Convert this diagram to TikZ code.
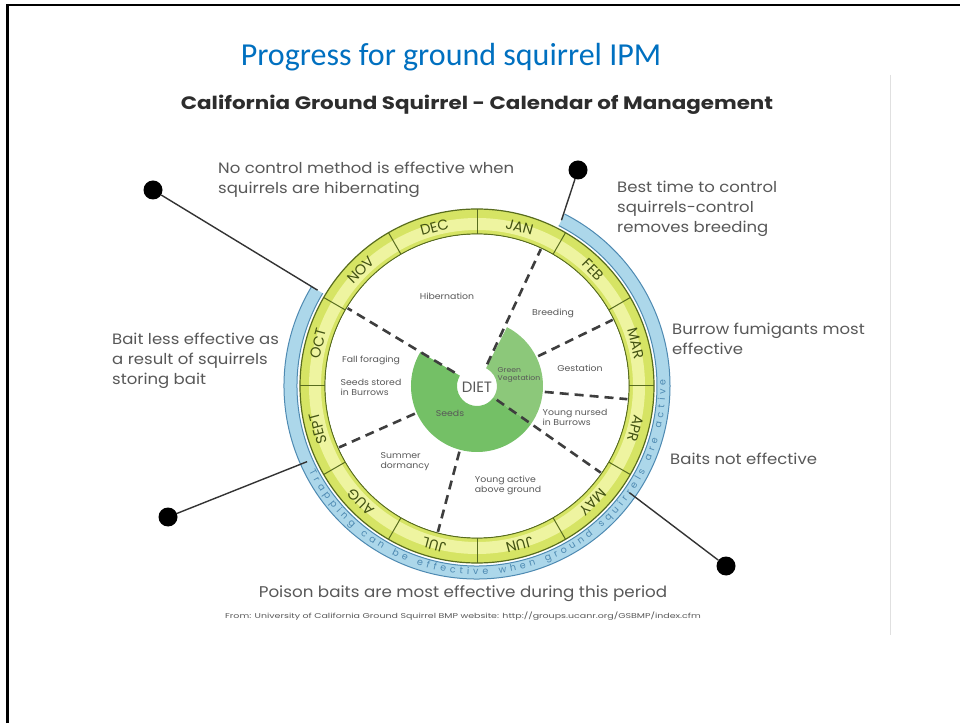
\documentclass[tikz,border=0pt]{standalone}
\usepackage{fontspec}
\setmainfont{Poppins}
\newfontfamily\slidefont{Carlito}
\usepackage{xcolor}
\usepackage{tikz}
\usetikzlibrary{positioning, decorations.text}

\definecolor{slideblue}{RGB}{0,112,192}
\definecolor{notegray}{RGB}{88,88,88}
\definecolor{headgray}{RGB}{45,45,45}
\definecolor{ringyellow}{RGB}{214,228,100}
\definecolor{ringlight}{RGB}{238,244,160}
\definecolor{ringline}{RGB}{88,108,30}
\definecolor{monthtext}{RGB}{66,82,18}
\definecolor{bandblue}{RGB}{172,215,234}
\definecolor{bandline}{RGB}{78,138,178}
\definecolor{seedgreen}{RGB}{116,192,102}
\definecolor{leafgreen}{RGB}{140,200,122}
\definecolor{dashgray}{RGB}{62,62,62}

\begin{document}
\begin{tikzpicture}[x=1pt, y=1pt]
\tikzstyle{note} = [text=notegray, font=\fontsize{15}{20}\selectfont, align=left, anchor=north west, inner sep=0pt, xscale=1.1]
\tikzstyle{phase} = [text=notegray, font=\fontsize{8.5}{10}\selectfont, align=left, inner sep=0pt, xscale=1.1]
\tikzstyle{month} = [text=monthtext, font=\fontsize{14.5}{14.5}\selectfont, inner sep=0pt]
\tikzstyle{pin} = [circle, fill=black, minimum size=19pt, inner sep=0pt]
\tikzstyle{leader} = [line width=1.4pt, draw=black!80]
\tikzstyle{divide} = [draw=dashgray, line width=2.6pt, dash pattern=on 9pt off 6pt]

\useasboundingbox (0,0) rectangle (960,723);
\fill[white] (0,0) rectangle (960,723);
% slide frame and picture edge
\draw[line width=2.5pt] (7.5,0) -- (7.5,718) -- (960,718);
\draw[black!12, line width=0.8pt] (890,648) -- (890,88);

\node (title) at (451,666) {\slidefont\fontsize{32}{34}\selectfont\color{slideblue}Progress for ground squirrel IPM};
\node[xscale=1.19] (heading) at (477,618) {\color{headgray}\bfseries\fontsize{18}{20}\selectfont California Ground Squirrel - Calendar of Management};

% calendar wheel
\begin{scope}[shift={(477,337)}]
  % trapping band
  \fill[bandblue] (149:180) arc (149:423:180) -- (423:193) arc (423:149:193) -- cycle;
  \draw[bandline, line width=1pt] (149:180) arc (149:423:180);
  \draw[bandline, line width=1pt] (149:193) arc (149:423:193);
  \path[decorate, decoration={text along path, text format delimiters={|}{|},
      text={|\fontsize{9.5}{9.5}\selectfont|Trapping can be effective when ground squirrels are active},
      text color=bandline, text align={fit to path}}]
    (207:188.5) arc (207:362:188.5);

  % month ring
  \fill[ringyellow, even odd rule] (0,0) circle (177) (0,0) circle (152);
  \fill[ringlight, even odd rule] (0,0) circle (168) (0,0) circle (156);
  \draw[ringline, line width=1.2pt] (0,0) circle (177);
  \draw[ringline, line width=1.2pt] (0,0) circle (152);
  \foreach \a in {0,30,...,330}
    \draw[ringline, line width=1pt] (\a:152) -- (\a:177);
  \foreach \m [count=\i] in {JAN,FEB,MAR,APR,MAY,JUN,JUL,AUG,SEPT,OCT,NOV,DEC} {
    \pgfmathsetmacro\ang{105-30*\i}
    \node[month, rotate=\ang-90] (m\i) at (\ang:164.5) {\m};
  }
  \fill[white] (0,0) circle (151.4);

  % diet
  \fill[leafgreen] (63:20) arc (63:-35:20) -- (-35:66) arc (-35:63:66) -- cycle;
  \fill[seedgreen] (-35:20) arc (-35:-211:20) -- (-211:66) arc (-211:-35:66) -- cycle;

  \draw[divide] (65:24) -- (65:151);
  \draw[divide] (149:26) -- (149:151);
  \draw[divide] (-35:24) -- (-35:151);
  \foreach \a in {26,-5,-105,-156}
    \draw[divide] (\a:68) -- (\a:151);

  \node[text=notegray, font=\fontsize{15}{15}\selectfont, inner sep=0pt] (diet) at (0,-1) {DIET};
  \node[phase, font=\fontsize{7}{8}\selectfont] (leaf) at (42,11) {Green\\Vegetation};
  \node[phase] (seed) at (-27,-27) {Seeds};
  \node[phase] (hib) at (-30,90) {Hibernation};
  \node[phase] (breed) at (76,73) {Breeding};
  \node[phase] (gest) at (103,18) {Gestation};
  \node[phase] (nursed) at (98,-31) {Young nursed\\in Burrows};
  \node[phase] (active) at (31,-99) {Young active\\above ground};
  \node[phase] (dorm) at (-72,-76) {Summer\\dormancy};
  \node[phase] (forage) at (-106,26) {Fall foraging};
  \node[phase] (stored) at (-106,-1) {Seeds stored\\in Burrows};

  \coordinate (endnw) at (149:186);
  \coordinate (endne) at (63:186);
  \coordinate (endsw) at (204:186);
  \coordinate (endse) at (-35:186);
\end{scope}

% notes round the wheel
\node[note] (nohib) at (218,561) {No control method is effective when\\squirrels are hibernating};
\node[note] (best) at (617,542) {Best time to control\\squirrels-control\\removes breeding};
\node[note] (fumig) at (672,400) {Burrow fumigants most\\effective};
\node[note] (noeff) at (670,270) {Baits not effective};
\node[note] (lesseff) at (112,390) {Bait less effective as\\a result of squirrels\\storing bait};
\node[text=notegray, font=\fontsize{15.5}{16}\selectfont, xscale=1.08] (poison) at (463,129) {Poison baits are most effective during this period};
\node[text=notegray, font=\fontsize{7}{8}\selectfont, xscale=1.35, below=3pt of poison] (source) {From: University of California Ground Squirrel BMP website: http://groups.ucanr.org/GSBMP/index.cfm};

\node[pin] (dotnw) at (153,533) {};
\node[pin] (dotne) at (578,553) {};
\node[pin] (dotsw) at (168,206) {};
\node[pin] (dotse) at (726,157) {};
\draw[leader] (dotnw) -- (endnw);
\draw[leader] (dotne) -- (endne);
\draw[leader] (dotsw) -- (endsw);
\draw[leader] (dotse) -- (endse);

\end{tikzpicture}
\end{document}
